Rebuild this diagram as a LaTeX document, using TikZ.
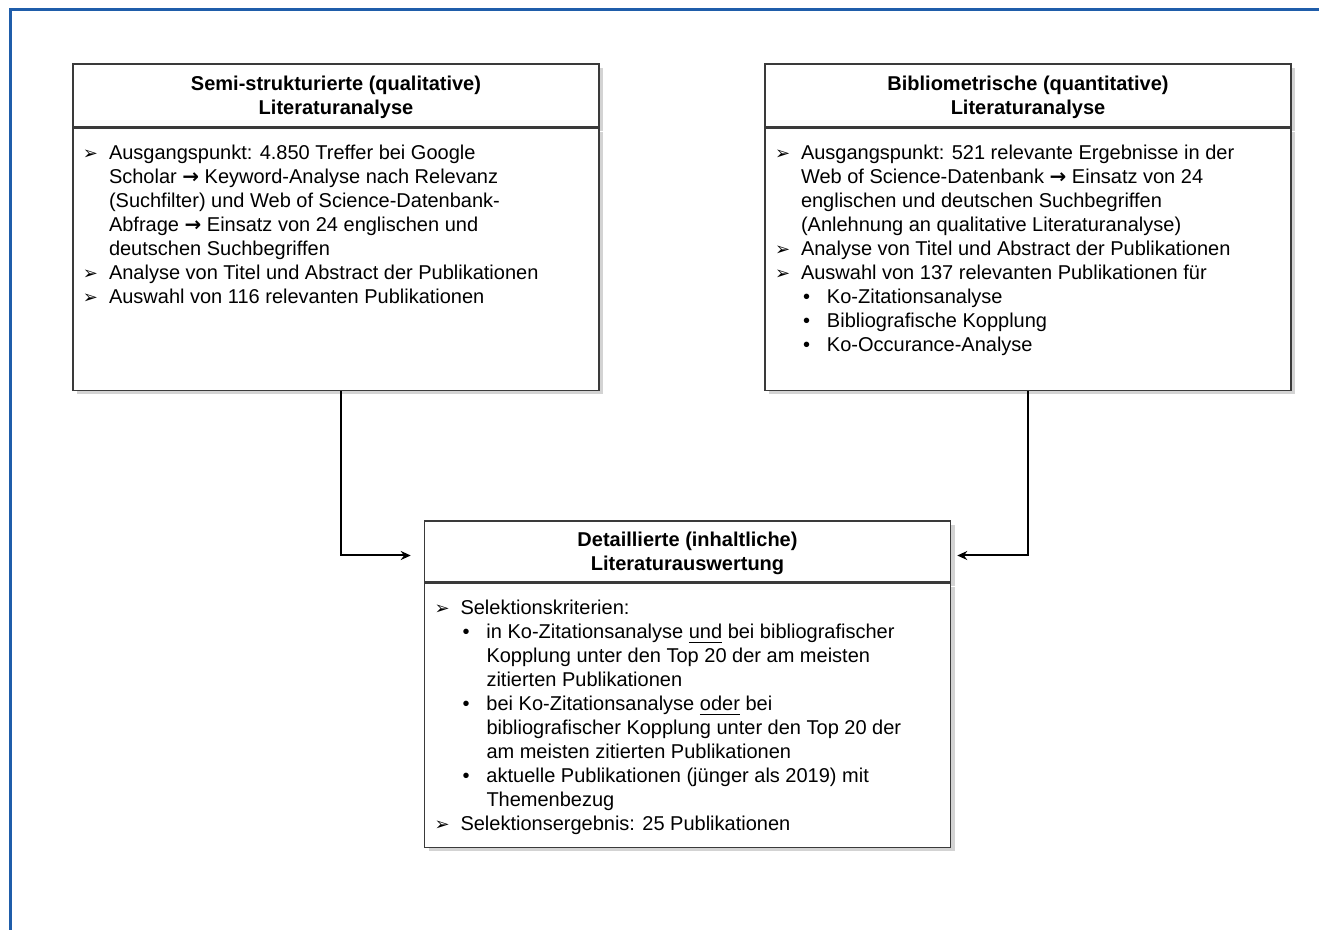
\documentclass[tikz,border=0pt]{standalone}
\usepackage{fontspec}
\setmainfont{Liberation Sans}
\newfontfamily\symfont{DejaVu Sans}
\usetikzlibrary{arrows.meta, shadows}
\definecolor{rahmenblau}{HTML}{1F5DAA}
\definecolor{linie}{HTML}{3A3A3A}

\newcommand\pfeil{\par\hangindent=12pt\hangafter=1\noindent\hspace*{-1pt}\makebox[13pt][l]{\symfont\small ➢}}
\newcommand\punkt{\par\hangindent=25pt\hangafter=1\noindent\hspace*{13pt}\makebox[12pt][l]{\textbullet}}
\newcommand\folgt{{\symfont\bfseries →}}
\newcommand\inhalt[2]{\parbox[c][#1][t]{263pt}{\leftskip=6pt\rightskip=0pt plus 1fil\parfillskip=0pt plus 1fil\vspace*{8.5pt}#2}}

\tikzset{
    kopf/.style={draw=linie, line width=0.75pt, fill=white, minimum width=263pt, minimum height=31.5pt,
        align=center, font=\bfseries, text depth=-1.5pt, drop shadow={shadow xshift=2pt, shadow yshift=-2pt, opacity=0.35}},
    rumpf/.style={draw=linie, line width=0.75pt, fill=white, inner sep=0pt, anchor=north,
        drop shadow={shadow xshift=2pt, shadow yshift=-2pt, opacity=0.35}},
    verbinder/.style={-{Stealth[length=5pt,width=4.5pt]}, line width=1pt}
}

\begin{document}
\begin{tikzpicture}[x=0.5pt, y=-0.5pt]
    \useasboundingbox (0,0) rectangle (1319,930);
    % Rahmen
    \draw[rahmenblau, line width=1.5pt] (10,930) -- (10,10) -- (1319,10);
    % qualitativ
    \node[kopf] (semikopf) at (336,95.5) {Semi-strukturierte (qualitative)\\Literaturanalyse};
    \node[rumpf] (semi) at (semikopf.south) {\inhalt{131pt}{%
        \pfeil Ausgangspunkt: 4.850 Treffer bei Google\\Scholar \folgt{} Keyword-Analyse nach Relevanz\\(Suchfilter) und Web of Science-Datenbank-\\Abfrage \folgt{} Einsatz von 24 englischen und\\deutschen Suchbegriffen
        \pfeil Analyse von Titel und Abstract der Publikationen
        \pfeil Auswahl von 116 relevanten Publikationen}};
    % quantitativ
    \node[kopf] (bibliokopf) at (1028,95.5) {Bibliometrische (quantitative)\\Literaturanalyse};
    \node[rumpf] (biblio) at (bibliokopf.south) {\inhalt{131pt}{%
        \pfeil Ausgangspunkt: 521 relevante Ergebnisse in der\\Web of Science-Datenbank \folgt{} Einsatz von 24\\englischen und deutschen Suchbegriffen\\(Anlehnung an qualitative Literaturanalyse)
        \pfeil Analyse von Titel und Abstract der Publikationen
        \pfeil Auswahl von 137 relevanten Publikationen für
        \punkt Ko-Zitationsanalyse
        \punkt Bibliografische Kopplung
        \punkt Ko-Occurance-Analyse}};
    % Auswertung
    \node[kopf, minimum height=30.5pt] (detailkopf) at (687.5,551.5) {Detaillierte (inhaltliche)\\Literaturauswertung};
    \node[rumpf] (detail) at (detailkopf.south) {\inhalt{132pt}{%
        \pfeil Selektionskriterien:
        \punkt in Ko-Zitationsanalyse \underline{und} bei bibliografischer\\Kopplung unter den Top 20 der am meisten\\zitierten Publikationen
        \punkt bei Ko-Zitationsanalyse \underline{oder} bei\\bibliografischer Kopplung unter den Top 20 der\\am meisten zitierten Publikationen
        \punkt aktuelle Publikationen (jünger als 2019) mit\\Themenbezug
        \pfeil Selektionsergebnis: 25 Publikationen}};
    % Verbindungen
    \draw[verbinder] ([xshift=2.5pt]semi.south) |- ([xshift=-6.5pt, yshift=-2pt]detailkopf.west);
    \draw[verbinder] (biblio.south) |- ([xshift=3pt, yshift=-2pt]detailkopf.east);
\end{tikzpicture}
\end{document}
